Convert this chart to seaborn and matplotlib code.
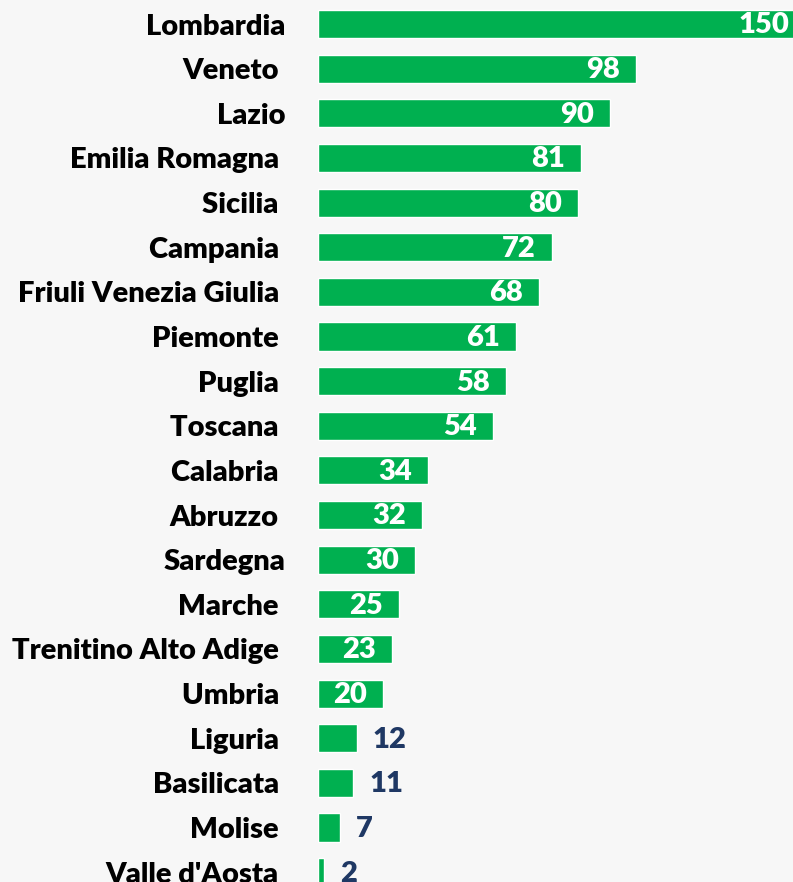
import matplotlib
matplotlib.use("Agg")
import matplotlib.pyplot as plt
import pandas as pd
import seaborn as sns

regions = ["Lombardia", "Veneto ", "Lazio", "Emilia Romagna ", "Sicilia ", "Campania ",
           "Friuli Venezia Giulia ", "Piemonte ", "Puglia ", "Toscana ", "Calabria ",
           "Abruzzo ", "Sardegna", "Marche ", "Trenitino Alto Adige ", "Umbria ",
           "Liguria ", "Basilicata ", "Molise ", "Valle d'Aosta "]
values = [150, 98, 90, 81, 80, 72, 68, 61, 58, 54, 34, 32, 30, 25, 23, 20, 12, 11, 7, 2]

df = pd.DataFrame({"Regione": regions, "Valore": values})

sns.set_style("white")
plt.rcParams['font.family'] = ['Lato', 'DejaVu Sans']

green = "#00B050"
navy = "#1F3864"
bg = "#F7F7F7"

fig = plt.figure(figsize=(7.93, 8.82), dpi=100, facecolor=bg)
ax = fig.add_axes([317.5 / 793, 0, 1 - 317.5 / 793, 1])
ax.set_facecolor(bg)

sns.barplot(data=df, x="Valore", y="Regione", orient="h", color=green,
            width=0.63, saturation=1, ax=ax)

ax.set_xlim(0, 146.2)
ax.set_ylim(19.22, -0.538)

for i, v in enumerate(values):
    if v >= 20:
        ax.annotate(str(v), (v, i), xytext=(-11.5, -1), textcoords="offset points",
                    ha="right", va="center", color="white", fontsize=21,
                    fontweight="heavy", annotation_clip=False)
    else:
        ax.annotate(str(v), (v, i), xytext=(11.5, -1), textcoords="offset points",
                    ha="left", va="center", color=navy, fontsize=21,
                    fontweight="heavy")

ax.set_xlabel(None)
ax.set_ylabel(None)
ax.set_xticks([])
ax.tick_params(axis="y", length=0, pad=23)
for lab in ax.get_yticklabels():
    lab.set_fontsize(21)
    lab.set_fontweight("heavy")
    lab.set_color("black")
sns.despine(ax=ax, left=True, bottom=True)

fig.savefig("out.png", dpi=100, facecolor=bg)
